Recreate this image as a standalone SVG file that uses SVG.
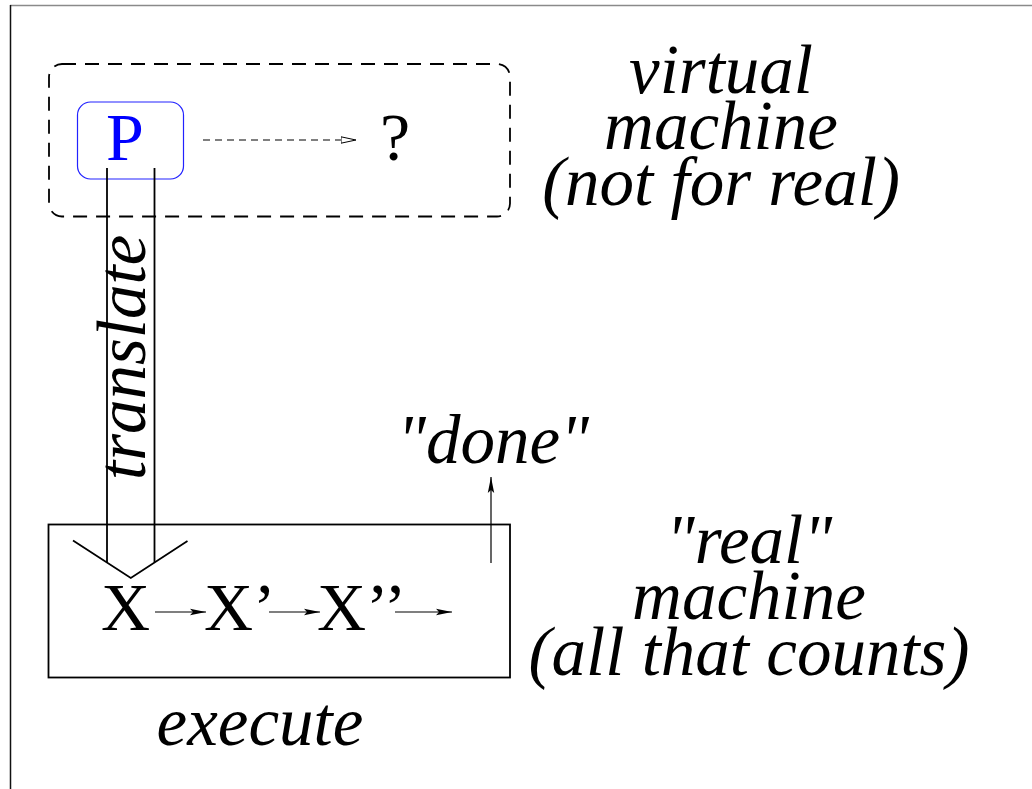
<svg xmlns="http://www.w3.org/2000/svg" width="1032" height="789" viewBox="0 0 1032 789">
  <style>
    .it { font-family: "Liberation Serif", "Times New Roman", serif; font-style: italic; font-size: 69px; fill: #000; }
    .rm { font-family: "Liberation Serif", "Times New Roman", serif; font-size: 68px; fill: #000; }
    .line { fill: none; stroke: #000; stroke-width: 1.8; }
    .thin { fill: none; stroke: #000; stroke-width: 1.2; }
  </style>
  <defs>
    <marker id="solid" viewBox="0 0 16 8" refX="16" refY="4" markerWidth="16" markerHeight="8" markerUnits="userSpaceOnUse" orient="auto">
      <path d="M0,0.8 L16,4 L0,7.2 L3,4 Z" fill="#000"/>
    </marker>
    <marker id="hollow" viewBox="0 0 16 8" refX="15.5" refY="4" markerWidth="16" markerHeight="8" markerUnits="userSpaceOnUse" orient="auto">
      <path d="M0.5,0.8 L15.5,4 L0.5,7.2 Z" fill="#fff" stroke="#000" stroke-width="1"/>
    </marker>
  </defs>

  <rect width="1032" height="789" fill="#fff"/>

  <!-- page frame -->
  <line x1="10" y1="5.5" x2="1032" y2="5.5" stroke="#8a8a8a" stroke-width="1.5"/>
  <line x1="10.5" y1="5" x2="10.5" y2="789" stroke="#111" stroke-width="1.5"/>

  <!-- virtual machine -->
  <g id="virtual-machine">
    <rect x="49" y="64" width="461" height="152.5" rx="13" ry="13" fill="none" stroke="#000" stroke-width="1.8" stroke-dasharray="14 9"/>
    <text class="it" x="721" y="93" text-anchor="middle">virtual</text>
    <text class="it" x="721" y="149" text-anchor="middle">machine</text>
    <text class="it" x="721" y="205" text-anchor="middle">(not for real)</text>
  </g>

  <g id="program">
    <rect x="77.5" y="102" width="106" height="77" rx="13" ry="13" fill="#fff" stroke="#2222ff" stroke-width="1.2"/>
    <text class="rm" x="106" y="160" style="fill:#0000ff">P</text>
  </g>

  <g id="unknown">
    <text class="rm" x="380" y="160">?</text>
  </g>

  <!-- real machine -->
  <g id="real-machine">
    <rect x="48.5" y="524.5" width="461.5" height="153" class="line"/>
    <text class="it" x="749" y="563" text-anchor="middle">"real"</text>
    <text class="it" x="749" y="619" text-anchor="middle">machine</text>
    <text class="it" x="749" y="675" text-anchor="middle">(all that counts)</text>
  </g>

  <g id="state-x">
    <text class="rm" x="101" y="630">X</text>
  </g>
  <g id="state-x1">
    <text class="rm" x="204" y="630">X’</text>
  </g>
  <g id="state-x2">
    <text class="rm" x="317" y="630">X’’</text>
  </g>

  <g id="done">
    <text class="it" x="493" y="463" text-anchor="middle">"done"</text>
  </g>

  <g id="execute">
    <text class="it" x="260" y="745" text-anchor="middle">execute</text>
  </g>

  <!-- connectors -->
  <g id="connectors">
    <line x1="203" y1="140" x2="356" y2="140" class="thin" stroke-dasharray="7 5" marker-end="url(#hollow)"/>

    <!-- translate: double shaft with open chevron head -->
    <line x1="107" y1="168" x2="107" y2="562" class="line"/>
    <line x1="154.5" y1="168" x2="154.5" y2="562" class="line"/>
    <polyline points="73,540.5 130.8,578 187.5,541" class="line"/>
    <text class="it" x="145" y="480" transform="rotate(-90 145 480)">translate</text>

    <line x1="155" y1="612" x2="206" y2="612" class="thin" marker-end="url(#solid)"/>
    <line x1="269" y1="612" x2="320" y2="612" class="thin" marker-end="url(#solid)"/>
    <line x1="395" y1="612" x2="452" y2="612" class="thin" marker-end="url(#solid)"/>

    <line x1="491" y1="563" x2="491" y2="477" class="thin" marker-end="url(#solid)"/>
  </g>
</svg>
